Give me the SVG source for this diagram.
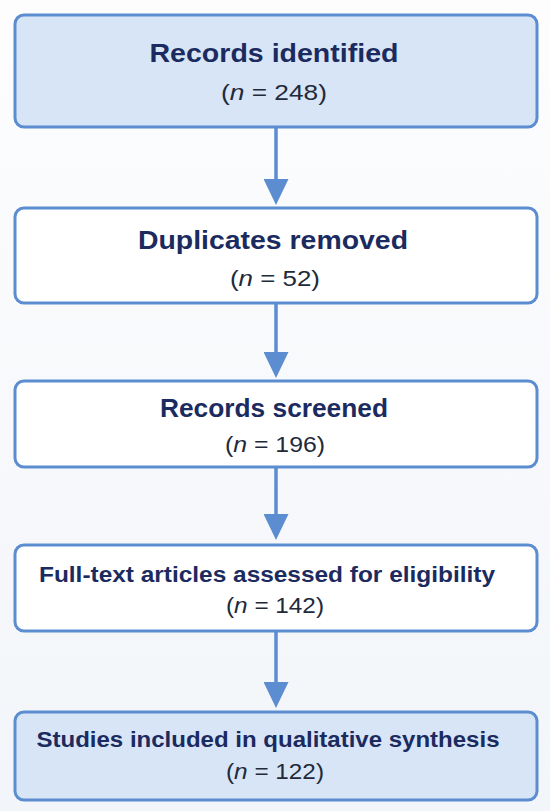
<svg xmlns="http://www.w3.org/2000/svg" width="550" height="811" viewBox="0 0 550 811">
  <defs>
    <linearGradient id="bg" x1="0" y1="0" x2="0" y2="1">
      <stop offset="0" stop-color="#fdfdfe"/>
      <stop offset="1" stop-color="#f2f5f9"/>
    </linearGradient>
    <marker id="ah" viewBox="0 0 26 25" refX="0" refY="12.5" markerWidth="26" markerHeight="25" markerUnits="userSpaceOnUse" orient="auto">
      <path d="M0,0 L26,12.5 L0,25 Z" fill="#5b8dd0"/>
    </marker>
  </defs>
  <style>
    .box { fill: #ffffff; stroke: #5b8dd0; stroke-width: 3; }
    .hl { fill: #d8e5f6; }
    .t { font-family: "Liberation Sans", Arial, sans-serif; font-weight: bold; fill: #1b2b5f; text-anchor: middle; }
    .n { font-family: "Liberation Sans", Arial, sans-serif; fill: #222a3a; text-anchor: middle; }
    .edge { stroke: #5b8dd0; stroke-width: 3.5; fill: none; }
  </style>
  <rect x="0" y="0" width="550" height="811" fill="url(#bg)"/>

  <g id="connectors">
    <line class="edge" x1="276" y1="127" x2="276" y2="179" marker-end="url(#ah)"/>
    <line class="edge" x1="276" y1="303" x2="276" y2="352" marker-end="url(#ah)"/>
    <line class="edge" x1="276" y1="467" x2="276" y2="514" marker-end="url(#ah)"/>
    <line class="edge" x1="276" y1="631" x2="276" y2="682" marker-end="url(#ah)"/>
  </g>

  <g id="records-identified">
    <rect class="box hl" x="15" y="15" width="522" height="112" rx="9"/>
    <text class="t" x="274" y="62" font-size="26" textLength="249" lengthAdjust="spacingAndGlyphs">Records identified</text>
    <text class="n" x="274" y="100" font-size="22" textLength="106" lengthAdjust="spacingAndGlyphs">(<tspan font-style="italic">n</tspan> = 248)</text>
  </g>

  <g id="duplicates-removed">
    <rect class="box" x="15" y="208" width="522" height="95" rx="9"/>
    <text class="t" x="273" y="249" font-size="26" textLength="270" lengthAdjust="spacingAndGlyphs">Duplicates removed</text>
    <text class="n" x="275" y="286" font-size="22" textLength="90" lengthAdjust="spacingAndGlyphs">(<tspan font-style="italic">n</tspan> = 52)</text>
  </g>

  <g id="records-screened">
    <rect class="box" x="15" y="381" width="522" height="86" rx="9"/>
    <text class="t" x="274" y="417" font-size="25" textLength="228" lengthAdjust="spacingAndGlyphs">Records screened</text>
    <text class="n" x="275" y="452" font-size="22" textLength="100" lengthAdjust="spacingAndGlyphs">(<tspan font-style="italic">n</tspan> = 196)</text>
  </g>

  <g id="full-text-assessed">
    <rect class="box" x="15" y="545" width="522" height="86" rx="9"/>
    <text class="t" x="267" y="582" font-size="22" textLength="456" lengthAdjust="spacingAndGlyphs">Full-text articles assessed for eligibility</text>
    <text class="n" x="275" y="613" font-size="22" textLength="98" lengthAdjust="spacingAndGlyphs">(<tspan font-style="italic">n</tspan> = 142)</text>
  </g>

  <g id="studies-included">
    <rect class="box hl" x="15" y="712" width="522" height="88" rx="9"/>
    <text class="t" x="268" y="747" font-size="22" textLength="463" lengthAdjust="spacingAndGlyphs">Studies included in qualitative synthesis</text>
    <text class="n" x="275" y="779" font-size="22" textLength="98" lengthAdjust="spacingAndGlyphs">(<tspan font-style="italic">n</tspan> = 122)</text>
  </g>
</svg>
